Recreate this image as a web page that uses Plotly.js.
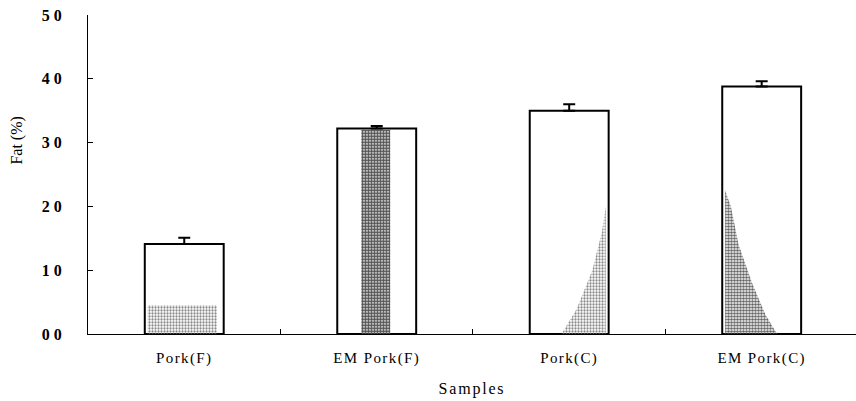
<!DOCTYPE html>
<html>
<head>
<meta charset="utf-8">
<script src="https://cdn.plot.ly/plotly-3.0.1.min.js"></script>
<style>
  html, body { margin: 0; padding: 0; background: #fff; }
  #chart { width: 856px; height: 401px; }
  .xtick text { letter-spacing: 1.4px; }
  .g-xtitle text { letter-spacing: 1.8px; }
</style>
</head>
<body>
<div id="chart"></div>
<script>
// Data
const categories = ["Pork(F)", "EM Pork(F)", "Pork(C)", "EM Pork(C)"];
const fatValues = [14.1, 32.2, 35.0, 38.8];
const fatErrors = [1.0, 0.4, 1.0, 0.8];
const yTickVals = [0, 10, 20, 30, 40, 50];
const yTickText = ["0 0", "1 0", "2 0", "3 0", "4 0", "5 0"];

// Scan-texture (stipple) regions seen in the reference, in category-axis units
const shadeF1x = [-0.19, 0.17, 0.17, -0.19, -0.19];
const shadeF1y = [0, 0, 4.5, 4.5, 0];
const shadeF2x = [0.92, 1.07, 1.07, 0.92, 0.92];
const shadeF2y = [0, 0, 32, 32, 0];
const shadeC1x = [1.96, 2.19, 2.19, 2.17, 2.12, 2.04, 1.96];
const shadeC1y = [0, 0, 20, 16, 10, 4, 0];
const shadeC2x = [2.81, 3.08, 3.02, 2.95, 2.88, 2.84, 2.81, 2.81];
const shadeC2y = [0, 0, 3, 8, 14, 20, 22.5, 0];

const font = "Liberation Serif, Times New Roman, serif";

function shade(xs, ys, fg, sol) {
  return {
    type: "scatter", mode: "none", x: xs, y: ys, xaxis: "x2", yaxis: "y",
    fill: "toself", fillcolor: "rgba(0,0,0,0)",
    fillpattern: { shape: ".", fgcolor: fg, bgcolor: "rgba(255,255,255,0)", size: 3, solidity: sol },
    hoverinfo: "skip", showlegend: false
  };
}

const traces = [
  {
    type: "bar", x: categories, y: fatValues, width: 0.41,
    marker: { color: "#ffffff", line: { color: "#000000", width: 2 } },
    error_y: { type: "data", array: fatErrors, arrayminus: [0,0,0,0], symmetric: false,
               color: "#000000", thickness: 2, width: 6 },
    showlegend: false
  },
  shade(shadeF1x, shadeF1y, "#8a8a8a", 0.45),
  shade(shadeF2x, shadeF2y, "#555555", 0.75),
  shade(shadeC1x, shadeC1y, "#8a8a8a", 0.45),
  shade(shadeC2x, shadeC2y, "#666666", 0.6)
];

const layout = {
  width: 856, height: 401,
  margin: { l: 88, r: 0, t: 15, b: 67 },
  paper_bgcolor: "#ffffff", plot_bgcolor: "#ffffff",
  font: { family: font, color: "#000000", size: 15 },
  xaxis: {
    type: "category", range: [-0.5, 3.49],
    showline: true, linecolor: "#000", linewidth: 1,
    ticks: "inside", tickson: "boundaries", ticklen: 5, tickcolor: "#000",
    showgrid: false, zeroline: false,
    ticklabelstandoff: 10,
    tickfont: { family: font, size: 15, color: "#000" },
    title: { text: "Samples", font: { family: font, size: 16, color: "#000" }, standoff: 16 }
  },
  xaxis2: {
    overlaying: "x", range: [-0.5, 3.49], visible: false, showgrid: false, zeroline: false
  },
  yaxis: {
    range: [0, 50], tickvals: yTickVals, ticktext: yTickText,
    showline: true, linecolor: "#000", linewidth: 1,
    ticks: "inside", ticklen: 5, tickcolor: "#000",
    showgrid: false, zeroline: false,
    ticklabelstandoff: 22,
    tickfont: { family: font, size: 16, color: "#000", weight: "bold" }
  },
  annotations: [{
    text: "Fat (%)", xref: "paper", yref: "paper",
    x: -0.093, y: 0.605, xanchor: "center", yanchor: "middle",
    textangle: -90, showarrow: false,
    font: { family: font, size: 16, color: "#000" }
  }]
};

Plotly.newPlot("chart", traces, layout, { staticPlot: true, displayModeBar: false });
</script>
</body>
</html>
